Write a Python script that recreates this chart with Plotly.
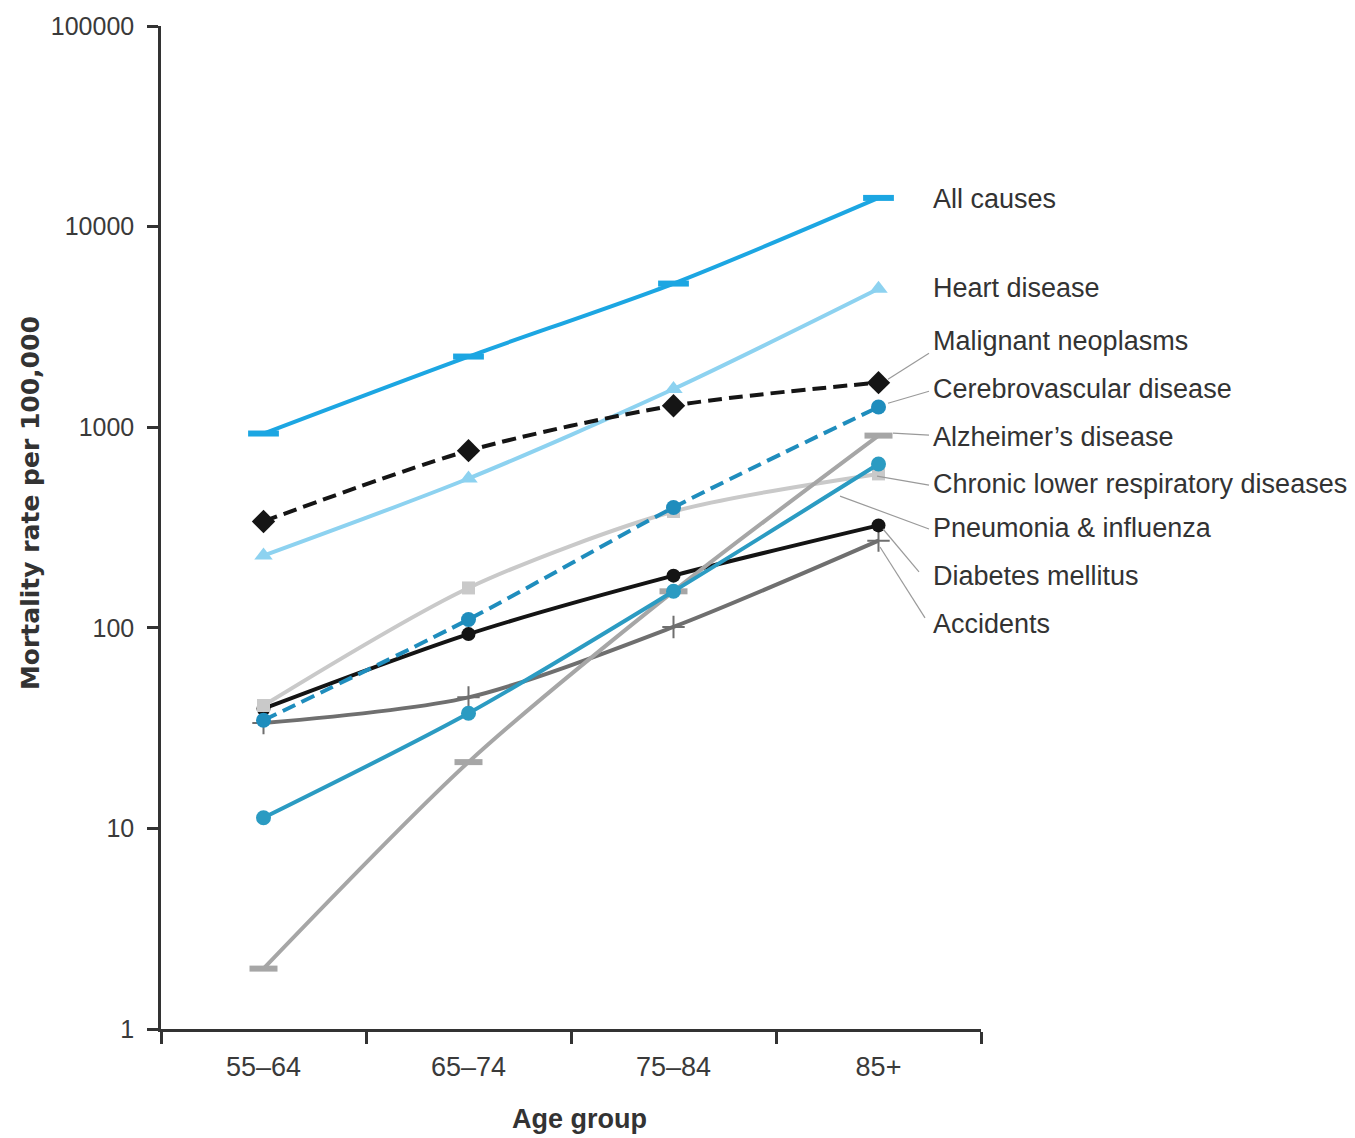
import plotly.graph_objects as go

# Age groups on the x axis
age_groups = ["55–64", "65–74", "75–84", "85+"]

# Mortality rate per 100,000 by cause of death
all_causes = [930, 2250, 5200, 13900]
heart_disease = [229, 555, 1550, 4900]
malignant_neoplasms = [339, 764, 1280, 1668]
cerebrovascular = [34.6, 110, 398, 1260]
alzheimers = [2.0, 21.4, 152, 908]
chronic_lower_resp = [11.3, 37.5, 152, 655]
pneumonia_influenza = [41, 158, 380, 585]
diabetes = [39.5, 93, 182, 324]
accidents = [33.5, 45, 101, 272]

y_tickvals = [1, 10, 100, 1000, 10000, 100000]
y_ticktext = ["1", "10", "100", "1000", "10000", "100000"]

series = [
    # name, values, colour, dash, marker symbol, marker size, marker line width
    ("Accidents", accidents, "#6f6f6f", "solid", "cross-thin", 16, 2),
    ("Diabetes mellitus", diabetes, "#141414", "solid", "circle", 14, 0),
    ("Pneumonia & influenza", pneumonia_influenza, "#c9c9c9", "solid", "square", 13, 0),
    ("Alzheimer's disease", alzheimers, "#a6a6a6", "solid", "line-ew", 20, 6),
    ("Chronic lower respiratory diseases", chronic_lower_resp, "#2b9bc2", "solid", "circle", 15, 0),
    ("Cerebrovascular disease", cerebrovascular, "#1f8dbd", "14px,7px", "circle", 15, 0),
    ("Heart disease", heart_disease, "#8dd2f0", "solid", "triangle-up", 16, 0),
    ("Malignant neoplasms", malignant_neoplasms, "#151515", "14px,7px", "diamond", 18, 0),
    ("All causes", all_causes, "#1ca6e2", "solid", "line-ew", 22, 6),
]

fig = go.Figure()
for name, vals, color, dash, symbol, msize, mlw in series:
    line_symbol = symbol.startswith("line") or symbol.endswith("thin")
    fig.add_trace(go.Scatter(
        x=age_groups, y=vals, name=name,
        mode="lines+markers",
        line=dict(color=color, width=4, dash=dash, shape="spline", smoothing=0.8),
        marker=dict(symbol=symbol, size=msize, color=color,
                    line=dict(color=color, width=mlw if line_symbol else 0)),
        showlegend=False,
    ))

# Plot area in pixels: x 161..981, y 24..1029
W, H = 1355, 1138
L, R, T, B = 161, 374, 24, 109
PW, PH = W - L - R, H - T - B


def px(x):
    return (x - L) / PW


def py(y):
    return (H - B - y) / PH


SANS = "Liberation Sans, Arial, sans-serif"
label_font = dict(family=SANS, size=27, color="#333333")

# Series labels on the right (text, pixel y centre)
labels = [
    ("All causes", 197), ("Heart disease", 287), ("Malignant neoplasms", 340),
    ("Cerebrovascular disease", 388), ("Alzheimer’s disease", 436),
    ("Chronic lower respiratory diseases", 483), ("Pneumonia & influenza", 527),
    ("Diabetes mellitus", 575), ("Accidents", 623),
]
annotations = []
for text, yy in labels:
    annotations.append(dict(text=text, x=px(931), y=py(yy), xref="paper", yref="paper",
                            xanchor="left", yanchor="middle", showarrow=False,
                            font=label_font))

# Leader lines from the line ends to their labels (pixel coords)
leaders = [
    (888, 378, 929, 352), (888, 402, 929, 390), (893, 432, 929, 434),
    (877, 475, 929, 484), (840, 495, 929, 528), (883, 528, 919, 571),
    (880, 546, 925, 617),
]
shapes = []
for x0, y0, x1, y1 in leaders:
    shapes.append(dict(type="line", xref="paper", yref="paper",
                       x0=px(x0), y0=py(y0), x1=px(x1), y1=py(y1),
                       line=dict(color="#9a9a9a", width=1.2)))

# Axis titles
annotations.append(dict(text="<b>Age group</b>", x=px(579), y=py(1119), xref="paper", yref="paper",
                        showarrow=False, xanchor="center", yanchor="middle",
                        font=dict(family=SANS, size=27, color="#333333")))
annotations.append(dict(text="<b>Mortality rate per 100,000</b>", x=px(30), y=py(502),
                        xref="paper", yref="paper", showarrow=False, textangle=-90,
                        xanchor="center", yanchor="middle",
                        font=dict(family="DejaVu Sans", size=25, color="#333333")))

fig.update_layout(
    width=W, height=H,
    margin=dict(l=L, r=R, t=T, b=B, pad=0),
    paper_bgcolor="white", plot_bgcolor="white",
    annotations=annotations, shapes=shapes,
    xaxis=dict(
        type="category", categoryorder="array", categoryarray=age_groups,
        range=[-0.5, 3.5], tickson="boundaries",
        ticks="outside", ticklen=12, tickwidth=2.5, tickcolor="#333333",
        showline=True, linecolor="#333333", linewidth=2.5,
        showgrid=False, zeroline=False, ticklabelstandoff=12,
        tickfont=dict(family=SANS, size=27, color="#3a3a3a"),
    ),
    yaxis=dict(
        type="log", range=[0, 5],
        tickvals=y_tickvals, ticktext=y_ticktext,
        ticks="outside", ticklen=11, tickwidth=2.5, tickcolor="#333333",
        showline=True, linecolor="#333333", linewidth=2.5,
        showgrid=False, zeroline=False, ticklabelstandoff=8,
        tickfont=dict(family=SANS, size=25, color="#3a3a3a"),
    ),
)

fig.write_html("out.html")
